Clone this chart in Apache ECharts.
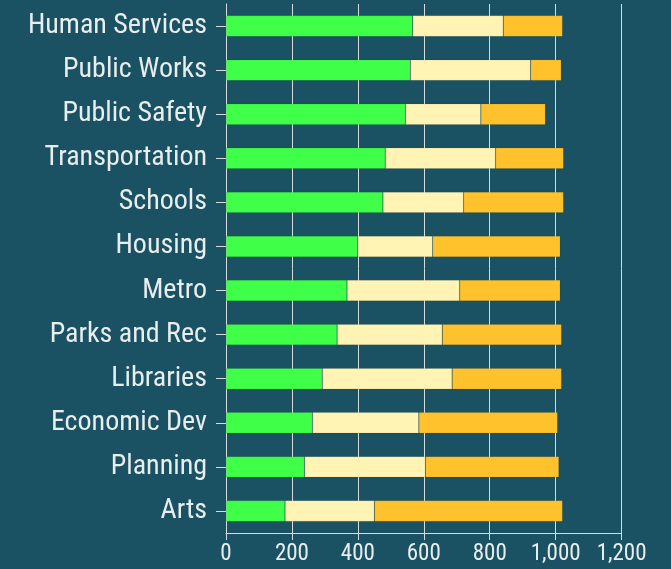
<!DOCTYPE html>
<html>
<head>
<meta charset="utf-8">
<script src="https://cdn.jsdelivr.net/npm/echarts@6/dist/echarts.min.js"></script>
<style>
html,body{margin:0;padding:0;background:#1a5263;}
#chart{width:671px;height:569px;}
</style>
</head>
<body>
<div id="chart"></div>
<script>
const categories = ["Human Services","Public Works","Public Safety","Transportation","Schools","Housing","Metro","Parks and Rec","Libraries","Economic Dev","Planning","Arts"];
const seriesA = [566,559,544,483,476,400,367,337,292,262,238,179];
const seriesB = [275,365,229,335,245,227,342,319,394,323,367,271];
const seriesC = [180,93,196,206,303,387,305,362,332,421,405,571];
const xTicks = [0,200,400,600,800,1000,1200];

const font = "'Roboto Condensed','Liberation Sans Narrow','DejaVu Sans Condensed',Roboto,sans-serif";
const textColor = '#e8eeee';
const lineColor = '#d6dcdc';

const chart = echarts.init(document.getElementById('chart'), null, {renderer:'canvas'});
function mk(name, data, color){
  return {name, type:'bar', stack:'total', data, barWidth:21,
    itemStyle:{color, borderColor:'rgba(0,0,0,0.12)', borderWidth:0.6}, silent:true};
}
chart.setOption({
  backgroundColor:'#1a5263',
  animation:false,
  grid:{left:226, top:4, width:395.6, height:529, containLabel:false},
  xAxis:{type:'value', min:xTicks[0], max:xTicks[xTicks.length-1], interval:200,
    axisLine:{show:true, lineStyle:{color:lineColor, width:1}},
    axisTick:{show:true, length:7, lineStyle:{color:lineColor}},
    splitLine:{show:true, lineStyle:{color:lineColor, width:1}},
    axisLabel:{color:textColor, fontFamily:font, fontSize:23, margin:10,
      formatter:v=>v.toLocaleString('en-US')}},
  yAxis:{type:'category', data:categories, inverse:true,
    axisLine:{show:true, lineStyle:{color:lineColor, width:1}},
    axisTick:{show:true, length:10, alignWithLabel:true, lineStyle:{color:lineColor}},
    axisLabel:{color:textColor, fontFamily:font, fontSize:28, margin:19, padding:[3,0,0,0]}},
  series:[mk('A',seriesA,'#40ff48'), mk('B',seriesB,'#fff4b3'), mk('C',seriesC,'#ffc22d')]
});
</script>
</body>
</html>
